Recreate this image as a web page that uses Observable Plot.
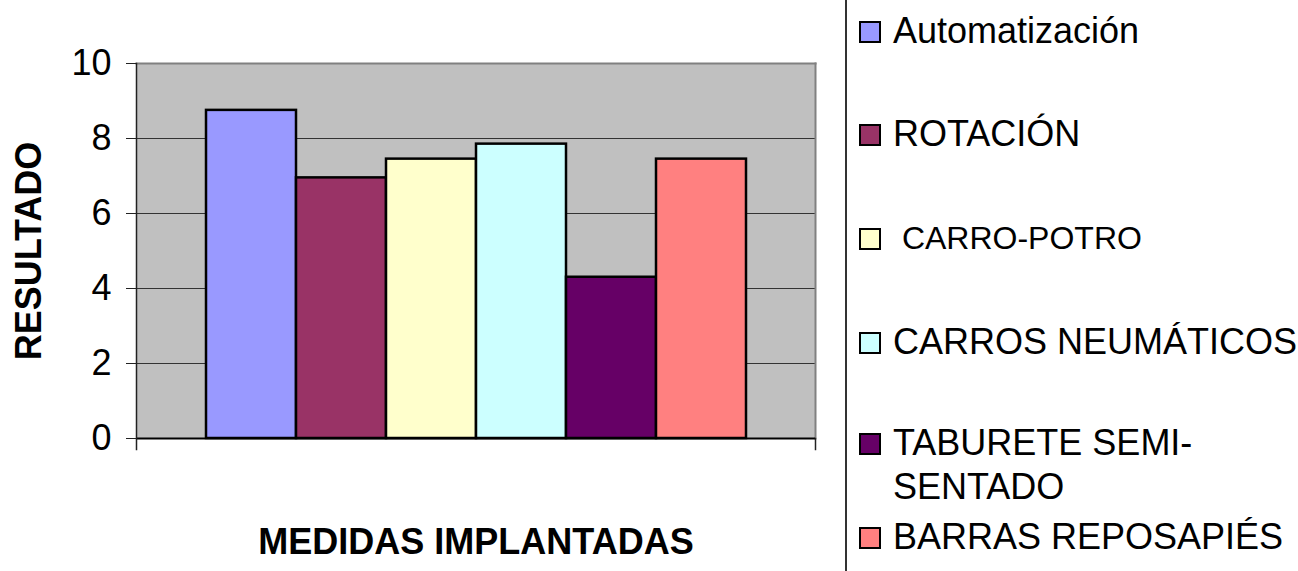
<!DOCTYPE html>
<html><head><meta charset="utf-8">
<script src="https://cdn.jsdelivr.net/npm/d3@7"></script>
<script src="https://cdn.jsdelivr.net/npm/@observablehq/plot@0.6"></script>
<style>
html,body{margin:0;padding:0;background:#fff;}
body{width:1298px;height:571px;position:relative;overflow:hidden;font-family:"Liberation Sans",Arial,sans-serif;}
#chart{position:absolute;left:0;top:0;}
#divider{position:absolute;left:845px;top:0;width:2px;height:571px;background:#333;}
.item{position:absolute;left:859px;display:flex;align-items:flex-start;font-size:36px;line-height:44px;color:#000;}
.sw{width:18px;height:18px;border:2px solid #000;margin-top:12px;margin-right:12px;flex:none;}
</style></head>
<body>
<div id="chart"></div>
<div id="divider"></div>
<div id="legend"></div>
<script>
const names = ["Automatización","ROTACIÓN","CARRO-POTRO","CARROS NEUMÁTICOS","TABURETE SEMI-SENTADO","BARRAS REPOSAPIÉS"];
const legendLabels = ["Automatización","ROTACIÓN","\u00a0CARRO-POTRO","CARROS NEUMÁTICOS","TABURETE SEMI-<br>SENTADO","BARRAS REPOSAPIÉS"];
const values = [8.75, 6.95, 7.45, 7.85, 4.3, 7.45];
const colors = ["#9999FF","#993366","#FFFFCC","#CCFFFF","#660066","#FF8080"];
const yTicks = [0, 2, 4, 6, 8, 10];
const yTitle = "RESULTADO";
const xTitle = "MEDIDAS IMPLANTADAS";

const data = names.map((n, i) => ({name: n, value: values[i], color: colors[i]}));

const chart = Plot.plot({
  width: 848,
  height: 571,
  marginLeft: 136,
  marginRight: 33,
  marginTop: 63,
  marginBottom: 133,
  style: {fontFamily: '"Liberation Sans", Arial, sans-serif', fontSize: "36px", color: "#000", background: "transparent"},
  x: {type: "band", domain: names, paddingInner: 0, paddingOuter: 0.75, axis: null},
  y: {domain: [0, 10], ticks: yTicks, tickSize: 10, tickPadding: 15, label: null, tickFormat: d => String(d)},
  marks: [
    Plot.frame({fill: "#C0C0C0", stroke: null}),
    Plot.ruleY(yTicks.filter(d => d > 0 && d < 10), {stroke: "#333", strokeWidth: 1}),
    Plot.frame({anchor: "top", stroke: "#808080", strokeWidth: 2}),
    Plot.frame({anchor: "right", stroke: "#808080", strokeWidth: 2}),
    Plot.barY(data, {x: "name", y: "value", fill: "color", stroke: "#000", strokeWidth: 2.5}),
    Plot.ruleY([0], {stroke: "#000", strokeWidth: 2}),
    Plot.frame({anchor: "left", stroke: "#222", strokeWidth: 1.5, insetBottom: -11}),
    Plot.frame({anchor: "right", stroke: "#222", strokeWidth: 1.5, insetTop: 375, insetBottom: -11}),
    Plot.axisY({ticks: yTicks, tickSize: 10, tickPadding: 15, label: null, fontSize: 36, stroke: "#222"}),
    Plot.text([yTitle], {frameAnchor: "left", dx: -107, rotate: -90, textAnchor: "middle", fontSize: 36, fontWeight: "bold", fill: "#000"}),
    Plot.text([xTitle], {frameAnchor: "bottom", dy: 115, textAnchor: "middle", fontSize: 36, fontWeight: "bold", fill: "#000"})
  ]
});
document.getElementById("chart").appendChild(chart);

const tops = [9, 112, 216, 320, 421, 515];
const fsz = [36, 36, 32, 36, 36, 36];
const lg = document.getElementById("legend");
legendLabels.forEach((t, i) => {
  const d = document.createElement("div");
  d.className = "item";
  d.style.top = tops[i] + "px";
  d.innerHTML = `<div class="sw" style="background:${colors[i]}"></div><div style="font-size:${fsz[i]}px">${t}</div>`;
  lg.appendChild(d);
});
</script>
</body></html>
